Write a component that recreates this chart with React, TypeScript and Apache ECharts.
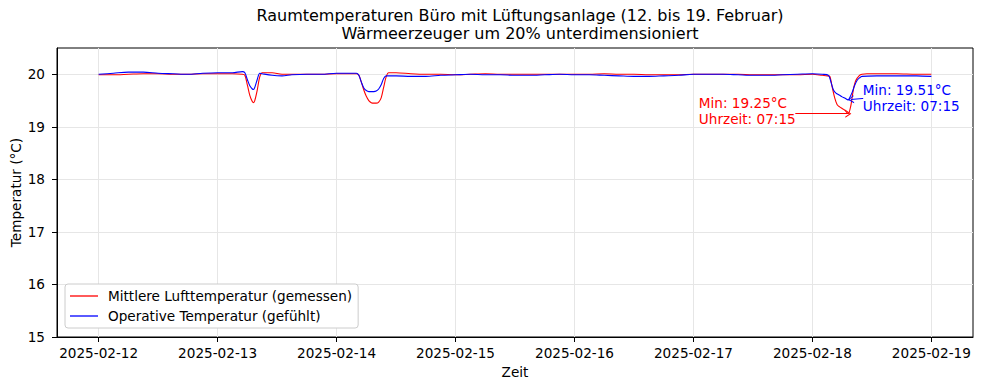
import React, { useEffect, useRef } from "react";
import * as echarts from "echarts";

const BASE = Date.UTC(2025, 1, 12);
const HOUR = 3600000;
const DAY = 24 * HOUR;

const titleText = "Raumtemperaturen Büro mit Lüftungsanlage (12. bis 19. Februar)\nWärmeerzeuger um 20% unterdimensioniert";
const xName = "Zeit";
const yName = "Temperatur (°C)";
const airName = "Mittlere Lufttemperatur (gemessen)";
const opName = "Operative Temperatur (gefühlt)";

const dayLabels = ["2025-02-12", "2025-02-13", "2025-02-14", "2025-02-15", "2025-02-16", "2025-02-17", "2025-02-18", "2025-02-19"];
const yTicks = [15, 16, 17, 18, 19, 20];

// hours since 2025-02-12 00:00
const airHours = [0, 3, 6, 9, 12, 15, 18, 21, 24, 27, 29, 29.5, 30, 30.5, 31, 31.25, 31.5, 32, 32.5, 33, 35, 37, 39, 42, 45, 48, 50, 52, 52.5, 53, 53.5, 54, 54.5, 55, 55.5, 56, 56.5, 57, 57.5, 58, 58.5, 60, 63, 66, 69, 72, 75, 78, 81, 84, 87, 90, 93, 96, 99, 102, 105, 108, 111, 114, 117, 120, 123, 126, 129, 132, 135, 138, 141, 144, 146, 147, 147.5, 148, 148.5, 149, 149.5, 150, 150.5, 151, 151.25, 151.75, 152.25, 152.75, 153.5, 154, 155, 158, 161, 165, 168];
const airTemp = [19.99, 19.99, 20.0, 20.01, 20.01, 20.0, 20.0, 20.01, 20.01, 20.01, 20.0, 19.98, 19.8, 19.6, 19.48, 19.46, 19.5, 19.7, 19.95, 20.03, 20.03, 20.0, 20.0, 20.0, 20.0, 20.01, 20.01, 20.01, 19.98, 19.85, 19.7, 19.58, 19.5, 19.46, 19.45, 19.45, 19.47, 19.55, 19.75, 19.95, 20.03, 20.03, 20.01, 20.0, 20.0, 19.99, 20.0, 20.01, 20.0, 20.0, 20.0, 20.0, 20.0, 20.0, 20.0, 20.01, 20.0, 20.0, 19.99, 19.99, 19.99, 20.0, 20.0, 20.0, 20.0, 19.99, 19.99, 19.99, 19.99, 20.0, 19.98, 19.97, 19.96, 19.75, 19.55, 19.42, 19.38, 19.35, 19.32, 19.27, 19.25, 19.4, 19.7, 19.88, 19.98, 20.0, 20.01, 20.01, 20.01, 20.0, 20.0];

const opHours = [0, 3, 6, 9, 12, 15, 18, 21, 24, 27, 29, 29.5, 30, 30.5, 31, 31.25, 31.5, 32, 32.5, 33, 35, 37, 39, 42, 45, 48, 50, 52, 52.5, 53, 53.5, 54, 54.5, 55, 55.5, 56, 56.5, 57, 57.5, 58, 60, 63, 66, 69, 72, 75, 78, 81, 84, 87, 90, 93, 96, 99, 102, 105, 108, 111, 114, 117, 120, 123, 126, 129, 132, 135, 138, 141, 144, 146, 147.25, 147.75, 148.25, 148.75, 149.5, 150, 150.5, 151, 151.25, 151.5, 152, 152.5, 153, 153.5, 154, 157, 161, 165, 168];
const opTemp = [20.0, 20.02, 20.04, 20.04, 20.02, 20.01, 20.0, 20.02, 20.03, 20.03, 20.05, 20.03, 19.9, 19.78, 19.72, 19.71, 19.75, 19.9, 20.02, 20.01, 19.98, 19.97, 19.99, 20.0, 20.0, 20.02, 20.02, 20.02, 19.98, 19.85, 19.74, 19.69, 19.67, 19.67, 19.67, 19.68, 19.72, 19.8, 19.92, 19.97, 19.97, 19.96, 19.96, 19.98, 19.99, 20.0, 19.99, 19.99, 19.98, 19.98, 19.99, 20.0, 19.99, 19.99, 19.98, 19.97, 19.96, 19.96, 19.97, 19.98, 20.0, 20.0, 20.0, 19.99, 19.98, 19.98, 19.99, 20.0, 20.01, 20.0, 19.98, 19.85, 19.7, 19.64, 19.6, 19.57, 19.55, 19.52, 19.51, 19.55, 19.65, 19.78, 19.88, 19.93, 19.96, 19.97, 19.97, 19.97, 19.96];

const FONT = "DejaVu Sans";
const RED = "#ff0000";
const BLUE = "#0000ff";
const CHEVRON = "path://M0,10 L5,0 L10,10 L8.6,10 L5,2.8 L1.4,10 Z";

function toPairs(hours: number[], vals: number[]) {
  return hours.map((h, i) => [BASE + h * HOUR, vals[i]]);
}

function findMin(hours: number[], vals: number[]) {
  let k = 0;
  vals.forEach((v, i) => { if (v < vals[k]) k = i; });
  return { t: BASE + hours[k] * HOUR, v: vals[k] };
}

function pad(n: number) { return String(n).padStart(2, "0"); }

function minLabel(m: { t: number; v: number }) {
  const d = new Date(m.t);
  return `Min: ${m.v.toFixed(2)}°C\nUhrzeit: ${pad(d.getUTCHours())}:${pad(d.getUTCMinutes())}`;
}

export default function App() {
  const ref = useRef<HTMLDivElement>(null);
  useEffect(() => {
    if (!ref.current) return;
    const chart = echarts.init(ref.current, undefined, { renderer: "svg" });
    const dayTicks = dayLabels.map((d) => Date.parse(d + "T00:00:00Z"));
    const airMin = findMin(airHours, airTemp);
    const opMin = findMin(opHours, opTemp);
    const labelStyle = { fontFamily: FONT, fontSize: 13.6, lineHeight: 16, align: "left", verticalAlign: "top" };

    chart.setOption({
      animation: false,
      backgroundColor: "#ffffff",
      textStyle: { fontFamily: FONT, color: "#000" },
      title: {
        text: titleText,
        left: 515,
        top: 1,
        textAlign: "center",
        textStyle: { fontFamily: FONT, fontSize: 16, fontWeight: "normal", color: "#000", lineHeight: 18.5 },
      },
      grid: {
        left: 57, right: 9, top: 48, bottom: 53,
        containLabel: false,
        outerBoundsMode: "none",
        show: true, borderColor: "#000", borderWidth: 1, backgroundColor: "transparent",
      },
      legend: {
        left: 65,
        top: 284,
        orient: "vertical",
        icon: "rect",
        itemWidth: 28,
        itemHeight: 1.3,
        itemGap: 6,
        padding: [5, 6, 5, 5],
        backgroundColor: "#fff",
        borderColor: "#cccccc",
        borderWidth: 1,
        borderRadius: 3,
        textStyle: { fontFamily: FONT, fontSize: 13.6, lineHeight: 14, color: "#000", padding: [0, 0, 0, 5] },
        data: [airName, opName],
      },
      xAxis: {
        type: "value",
        min: BASE - 0.35 * DAY,
        max: BASE + 7.35 * DAY,
        name: xName,
        nameLocation: "middle",
        nameGap: 28,
        nameMoveOverlap: false,
        nameTextStyle: { fontFamily: FONT, fontSize: 13.6, color: "#000" },
        axisLine: { show: true, lineStyle: { color: "#000", width: 1 } },
        axisTick: { show: true, length: 5, lineStyle: { color: "#000" }, customValues: dayTicks },
        axisLabel: {
          customValues: dayTicks,
          margin: 9,
          fontFamily: FONT,
          fontSize: 13.6,
          color: "#000",
          formatter: (v: number) => new Date(v).toISOString().slice(0, 10),
        },
        splitLine: { show: true, lineStyle: { color: "#e6e6e6", width: 1 } },
      },
      yAxis: {
        type: "value",
        min: 15,
        max: 20.5,
        interval: 1,
        name: yName,
        nameLocation: "middle",
        nameGap: 34,
        nameMoveOverlap: false,
        nameTextStyle: { fontFamily: FONT, fontSize: 13.6, color: "#000" },
        axisLine: { show: true, lineStyle: { color: "#000", width: 1 } },
        axisTick: { show: true, length: 5, lineStyle: { color: "#000" }, customValues: yTicks },
        axisLabel: { customValues: yTicks, margin: 12, fontFamily: FONT, fontSize: 13.6, color: "#000" },
        splitLine: { show: true, lineStyle: { color: "#e6e6e6", width: 1 } },
      },
      series: [
        {
          name: airName,
          type: "line",
          data: toPairs(airHours, airTemp),
          symbol: "none",
          smooth: 0.3,
          lineStyle: { color: RED, width: 1.1 },
          itemStyle: { color: RED },
          z: 3,
          markPoint: {
            silent: true,
            data: [{ coord: [airMin.t, airMin.v], symbol: "circle", symbolSize: 1, itemStyle: { color: "rgba(0,0,0,0)" } }],
            label: { show: true, position: [-149, -18], formatter: minLabel(airMin), color: RED, ...labelStyle },
          },
          markLine: {
            silent: true,
            animation: false,
            label: { show: false },
            lineStyle: { color: RED, width: 1, type: "solid" },
            symbolSize: [8, 6],
            data: [[
              { coord: [airMin.t - 10.7 * HOUR, airMin.v], symbol: "none" },
              { coord: [airMin.t, airMin.v], symbol: CHEVRON },
            ]],
          },
        },
        {
          name: opName,
          type: "line",
          data: toPairs(opHours, opTemp),
          symbol: "none",
          smooth: 0.3,
          lineStyle: { color: BLUE, width: 1.1 },
          itemStyle: { color: BLUE },
          z: 4,
          markPoint: {
            silent: true,
            data: [{ coord: [opMin.t, opMin.v], symbol: "circle", symbolSize: 1, itemStyle: { color: "rgba(0,0,0,0)" } }],
            label: { show: true, position: [15, -18], formatter: minLabel(opMin), color: BLUE, ...labelStyle },
          },
          markLine: {
            silent: true,
            animation: false,
            label: { show: false },
            lineStyle: { color: BLUE, width: 1, type: "solid" },
            symbolSize: [8, 6],
            data: [[
              { coord: [opMin.t + 3 * HOUR, opMin.v + 0.03], symbol: "none" },
              { coord: [opMin.t + 0.5 * HOUR, opMin.v + 0.01], symbol: CHEVRON },
            ]],
          },
        },
      ],
    });
    return () => chart.dispose();
  }, []);
  return <div ref={ref} style={{ position: "fixed", left: 0, top: 0, width: 982, height: 390 }} />;
}
